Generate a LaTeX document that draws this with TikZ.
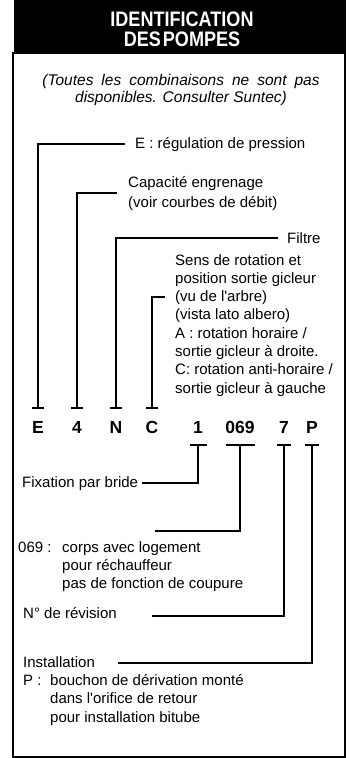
\documentclass[tikz,border=0pt]{standalone}
\usepackage{fontspec}
\setmainfont{Liberation Sans}
\newfontfamily\headfont[FakeStretch=0.86]{Liberation Sans}
\usetikzlibrary{arrows.meta,positioning}

\begin{document}
\begin{tikzpicture}[
  x=1pt, y=-1pt,
  headtext/.style={
    font=\headfont\fontsize{21}{20}\selectfont\bfseries,
    text=white,
    align=center,
    inner sep=0pt,
    anchor=north
  },
  notetext/.style={
    font=\fontsize{15.5}{17}\selectfont\itshape,
    align=center,
    inner sep=0pt,
    anchor=north
  },
  codeletter/.style={
    font=\fontsize{17.5}{20}\selectfont\bfseries,
    inner sep=0pt,
    text height=12.5pt,
    text depth=0pt,
    anchor=base
  },
  desc/.style={
    font=\fontsize{15}{18.3}\selectfont,
    align=left,
    inner sep=0pt
  },
  leader/.style={
    line width=2pt,
    -{Bar[width=12pt]}
  }
]
  \useasboundingbox (0,0) rectangle (350,758);

  % -------------------------------------------------------------
  % HEADER AND FRAME
  % -------------------------------------------------------------
  \fill[black] (14,0) rectangle (346,53);
  \node[headtext] (head) at (182,12) {IDENTIFICATION\\DES\hspace{2pt}POMPES};
  \draw[line width=1.5pt] (13,53) rectangle (345,757);

  \node[notetext] (note) at (181,74) {%
    {\spaceskip=8pt (Toutes les combinaisons ne sont pas}\\
    disponibles. Consulter Suntec)};

  % -------------------------------------------------------------
  % CODE LETTERS
  % -------------------------------------------------------------
  \node[codeletter] (cE)   at (38,433)  {E};
  \node[codeletter] (c4)   at (77,433)  {4};
  \node[codeletter] (cN)   at (116,433) {N};
  \node[codeletter] (cC)   at (152,433) {C};
  \node[codeletter] (c1)   at (198,433) {1};
  \node[codeletter] (c069) at (240,433) {069};
  \node[codeletter] (c7)   at (284,433) {7};
  \node[codeletter] (cP)   at (312,433) {P};

  % -------------------------------------------------------------
  % UPPER DESCRIPTIONS
  % -------------------------------------------------------------
  \node[desc, anchor=base west] (dE) at (135,148) {E : régulation de pression};

  \node[desc, anchor=north west, font=\fontsize{15}{20}\selectfont] (dCap) at (128,176) {
    Capacité engrenage\\
    (voir courbes de débit)};

  \node[desc, anchor=base west] (dFiltre) at (287,243) {Filtre};

  \node[desc, anchor=north west] (dSens) at (175,254) {
    Sens de rotation et\\
    position sortie gicleur\\
    (vu de l\textquotesingle arbre)\\
    (vista lato albero)\\
    A : rotation horaire /\\
    sortie gicleur à droite.\\
    C: rotation anti-horaire /\\
    sortie gicleur à gauche};
  \coordinate (tipC) at (165,297);

  % -------------------------------------------------------------
  % LOWER DESCRIPTIONS
  % -------------------------------------------------------------
  \node[desc, anchor=base west] (dFix) at (22,487) {Fixation par bride};

  \node[desc, anchor=base west] (k069) at (18,552) {069 :};
  \node[desc, anchor=north west, font=\fontsize{15}{18}\selectfont] (d069) at (62,541) {
    corps avec logement\\
    pour réchauffeur\\
    pas de fonction de coupure};
  \coordinate (end069) at (155,531);

  \node[desc, anchor=base west] (dRev) at (23,618) {N° de révision};
  \coordinate (end7) at (152,616);

  \node[desc, anchor=base west] (dInst) at (23,667) {Installation};
  \coordinate (endP) at (118,663);
  \node[desc, anchor=base west] (kP) at (23,685) {P :};
  \node[desc, anchor=north west, font=\fontsize{15}{18.5}\selectfont] (dP) at (50,674) {
    bouchon de dérivation monté\\
    dans l\textquotesingle orifice de retour\\
    pour installation bitube};

  % -------------------------------------------------------------
  % LEADERS
  % -------------------------------------------------------------
  \draw[leader] ([xshift=-10pt]dE.west) -| ([yshift=11.5pt]cE.north);
  \draw[leader] ([xshift=-11pt]dCap.west) -| ([yshift=11.5pt]c4.north);
  \draw[leader] ([xshift=-9pt]dFiltre.west) -| ([yshift=11.5pt]cN.north);
  \draw[leader] (tipC) -| ([yshift=11.5pt]cC.north);

  \draw[leader, -{Bar[width=17pt]}] ([xshift=4pt]dFix.east) -| ([yshift=-11pt]c1.south);
  \draw[leader, -{Bar[width=29pt]}] (end069) -| ([yshift=-11pt]c069.south);
  \draw[leader, -{Bar[width=14pt]}] (end7) -| ([yshift=-11pt]c7.south);
  \draw[leader, -{Bar[width=14pt]}] (endP) -| ([yshift=-11pt]cP.south);

\end{tikzpicture}
\end{document}
